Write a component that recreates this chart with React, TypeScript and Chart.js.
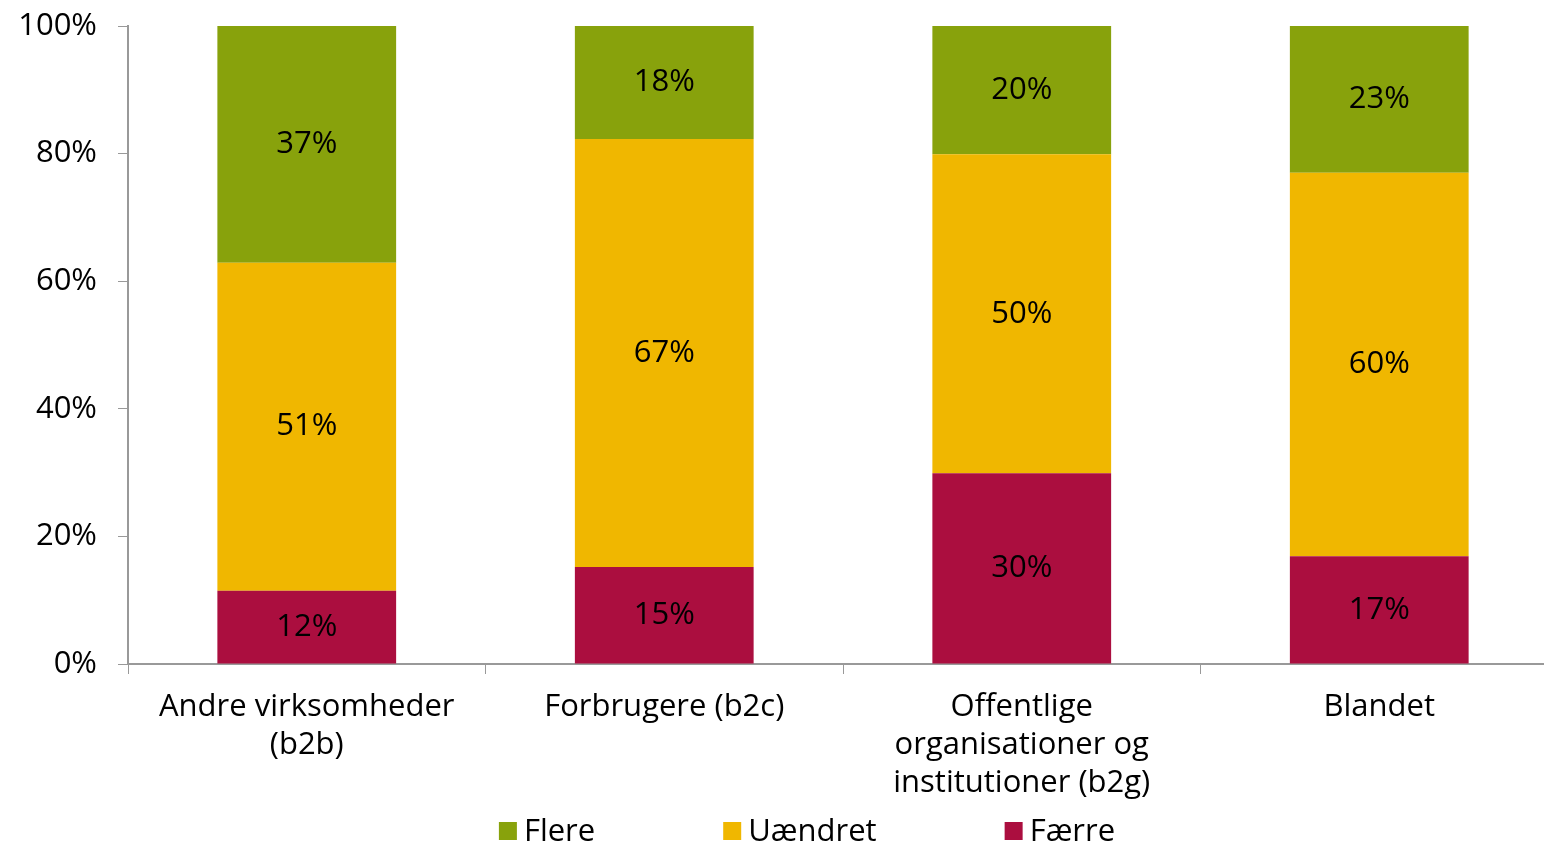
import React, { useEffect, useRef } from "react";
import { Chart, registerables } from "chart.js";

Chart.register(...registerables);

const categories: string[][] = [
  ["Andre virksomheder", "(b2b)"],
  ["Forbrugere (b2c)"],
  ["Offentlige", "organisationer og", "institutioner (b2g)"],
  ["Blandet"],
];
const faerre = [11.5, 15.2, 29.9, 16.9];
const uaendret = [51.4, 67.1, 50.0, 60.1];
const flere = [37.1, 17.7, 20.1, 23.0];
const yTicks = [0, 20, 40, 60, 80, 100];

const FONT = "'Open Sans'";
const FS = 31;

const dataLabelPlugin = {
  id: "dataLabels",
  afterDatasetsDraw(chart: any) {
    const ctx = chart.ctx;
    ctx.save();
    ctx.font = `${FS}px ${FONT}`;
    ctx.fillStyle = "#000";
    ctx.textAlign = "center";
    ctx.textBaseline = "middle";
    chart.data.datasets.forEach((ds: any, i: number) => {
      const meta = chart.getDatasetMeta(i);
      meta.data.forEach((bar: any, j: number) => {
        const y = (bar.y + bar.base) / 2;
        ctx.fillText(Math.round(ds.data[j]) + "%", bar.x, y);
      });
    });
    ctx.restore();
  },
};

const legendPlugin = {
  id: "customLegend",
  afterDraw(chart: any) {
    const ctx = chart.ctx;
    ctx.save();
    ctx.font = `${FS}px ${FONT}`;
    ctx.textBaseline = "middle";
    ctx.textAlign = "left";
    const items = [...chart.data.datasets].reverse();
    const box = 18;
    const gapText = 7;
    const gapItem = 128;
    const widths = items.map((d: any) => box + gapText + ctx.measureText(d.label).width);
    const total = widths.reduce((a: number, b: number) => a + b, 0) + gapItem * (items.length - 1);
    let x = 807 - total / 2;
    const yc = 831;
    items.forEach((d: any, k: number) => {
      ctx.fillStyle = d.backgroundColor;
      ctx.fillRect(x, yc - box / 2, box, box);
      ctx.fillStyle = "#000";
      ctx.fillText(d.label, x + box + gapText, yc + 1);
      x += widths[k] + gapItem;
    });
    ctx.restore();
  },
};

export default function App() {
  const ref = useRef<HTMLCanvasElement>(null);
  useEffect(() => {
    if (!ref.current) return;
    const chart = new Chart(ref.current, {
      type: "bar",
      data: {
        labels: categories as any,
        datasets: [
          { label: "Færre", data: faerre, backgroundColor: "#AB0E3F" },
          { label: "Uændret", data: uaendret, backgroundColor: "#F0B700" },
          { label: "Flere", data: flere, backgroundColor: "#88A20C" },
        ],
      },
      options: {
        animation: false,
        responsive: false,
        maintainAspectRatio: false,
        layout: { padding: { left: 0, right: 42, top: 26, bottom: 29 } },
        plugins: { legend: { display: false }, tooltip: { enabled: false } },
        datasets: { bar: { categoryPercentage: 1, barPercentage: 0.5 } } as any,
        scales: {
          x: {
            stacked: true,
            grid: { display: true, drawOnChartArea: false, drawTicks: true, tickLength: 10, color: "#999", offset: true },
            border: { display: true, color: "#999", width: 2 },
            ticks: {
              color: "#000",
              font: { family: FONT, size: FS, lineHeight: 38 / FS },
              padding: 14,
              maxRotation: 0,
              autoSkip: false,
            },
            afterFit(scale: any) {
              scale.height = 150;
              scale.paddingLeft = 0;
              scale.paddingRight = 0;
            },
          },
          y: {
            stacked: true,
            min: 0,
            max: 100,
            afterBuildTicks(scale: any) {
              scale.ticks = yTicks.map((v) => ({ value: v }));
            },
            grid: { display: true, drawOnChartArea: false, drawTicks: true, tickLength: 10, color: "#999" },
            border: { display: true, color: "#999", width: 2 },
            ticks: {
              color: "#000",
              font: { family: FONT, size: FS },
              padding: 21,
              callback: (v: any) => v + "%",
            },
            afterFit(scale: any) {
              scale.width = 128;
              scale.paddingTop = 0;
              scale.paddingBottom = 0;
            },
          },
        },
      },
      plugins: [dataLabelPlugin, legendPlugin],
    });
    return () => chart.destroy();
  }, []);
  return (
    <div style={{ position: "fixed", left: 0, top: 0, width: 1600, height: 843, background: "#fff" }}>
      <canvas ref={ref} width={1600} height={843} style={{ width: 1600, height: 843 }} />
    </div>
  );
}
